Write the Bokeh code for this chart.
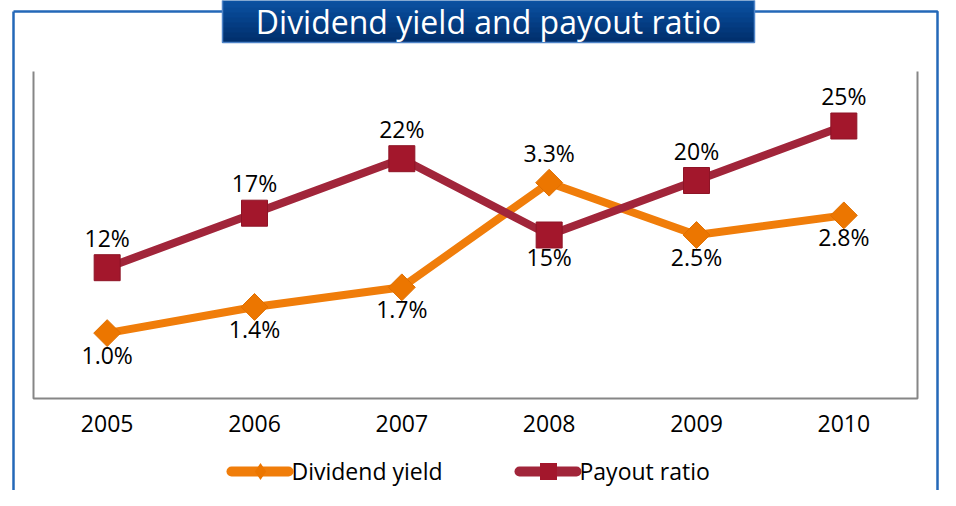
import numpy as np
from bokeh.plotting import figure
from bokeh.models import Range1d
from bokeh.core.properties import value
from bokeh.embed import file_html
from bokeh.resources import INLINE

# ---------------- data ----------------
title = "Dividend yield and payout ratio"
years = ["2005", "2006", "2007", "2008", "2009", "2010"]
dividend_yield = [1.0, 1.4, 1.7, 3.3, 2.5, 2.8]          # %, left scale 0-5
payout_ratio = [12, 17, 22, 15, 20, 25]                  # %, right scale 0-30
yield_labels = ["1.0%", "1.4%", "1.7%", "3.3%", "2.5%", "2.8%"]
payout_labels = ["12%", "17%", "22%", "15%", "20%", "25%"]
yield_label_side = ["below", "below", "below", "above", "below", "below"]
payout_label_side = ["above", "above", "above", "below", "above", "above"]
series_names = ["Dividend yield", "Payout ratio"]
YIELD_MAX = 5.0
PAYOUT_MAX = 30.0

# ---------------- layout (canvas pixels) ----------------
W, H = 940, 490
PL, PR, PT, PB = 33, 917, 71, 398
FONT = "Open Sans"
FS = "23px"
ORANGE = "#F07D0A"
ORANGE_M = "#EC7600"
RED = "#A1253A"
RED_M = "#A3172C"

n = len(years)
cat_px = (PR - PL) / n
pct_px = (PB - PT) / YIELD_MAX
k = PAYOUT_MAX / YIELD_MAX
x_start = -0.5 - PL / cat_px
x_end = x_start + W / cat_px
y_end = PB / pct_px
y_start = y_end - H / pct_px


def fx(cx):
    return x_start + cx / cat_px


def fy(cy):
    return y_end - cy / pct_px


p = figure(width=W, height=H, x_range=Range1d(x_start, x_end),
           y_range=Range1d(y_start, y_end), min_border=0,
           toolbar_location=None, output_backend="svg",
           x_axis_location=None, y_axis_location=None,
           outline_line_color=None, background_fill_color="white")
p.grid.visible = False
p.extra_y_ranges = {"payout": Range1d(y_start * k, y_end * k)}

# outer blue frame
fl, ft, fr, fb = 13, 11, 937, 500
p.line([fx(fl), fx(fr), fx(fr)], [fy(ft), fy(ft), fy(fb)], line_color="#2468B8", line_width=2.5)
p.line([fx(fl), fx(fl)], [fy(ft), fy(fb)], line_color="#2468B8", line_width=2.5)

# title box with vertical gradient
bx0, bx1, by0, by1 = 222, 754, -3, 42
grad = ["#0B52A3", "#0A4E9D", "#084A97", "#064590", "#054189", "#043C82", "#03387B", "#023474", "#01306E"]
ns = len(grad)
for i, c in enumerate(grad):
    t0 = by0 + (by1 - by0) * i / ns
    p.quad(left=fx(bx0), right=fx(bx1), top=fy(t0), bottom=fy(by1),
           fill_color=c, line_color=None)
p.line([fx(bx0), fx(bx0), fx(bx1), fx(bx1)], [fy(by0), fy(by1), fy(by1), fy(by0)],
       line_color="#4F84C8", line_width=1.5)
p.text(x=[fx((bx0 + bx1) / 2)], y=[fy(21)], text=[title], text_color="white",
       text_font=value(FONT), text_font_size="32px", text_align="center",
       text_baseline="middle")

# plot area border (no top)
p.line([fx(PL), fx(PL), fx(PR), fx(PR)], [fy(PT), fy(PB), fy(PB), fy(PT)],
       line_color="#868686", line_width=2)

xs = list(range(n))

# dividend yield series
p.line(xs, dividend_yield, line_color=ORANGE, line_width=8, line_join="round")
p.scatter(xs, dividend_yield, marker="square", angle=np.pi / 4, size=19,
          fill_color=ORANGE_M, line_color="#E06F00", line_width=1)

# payout ratio series (right scale)
p.line(xs, payout_ratio, line_color=RED, line_width=8, line_join="round",
       y_range_name="payout")
p.scatter(xs, payout_ratio, marker="square", size=26, fill_color=RED_M,
          line_color="#8E1426", line_width=1, y_range_name="payout")

ABOVE, BELOW = 30, 22
yl_y = [v + (ABOVE if s == "above" else -BELOW) / pct_px
        for v, s in zip(dividend_yield, yield_label_side)]
pl_y = [v + (ABOVE if s == "above" else -BELOW) / pct_px * k
        for v, s in zip(payout_ratio, payout_label_side)]
p.text(xs, yl_y, text=yield_labels, text_font=value(FONT), text_font_size=FS,
       text_align="center", text_baseline="middle", text_color="black")
p.text(xs, pl_y, text=payout_labels, text_font=value(FONT), text_font_size=FS,
       text_align="center", text_baseline="middle", text_color="black",
       y_range_name="payout")

# category labels
p.text(xs, [fy(PB + 25)] * n, text=years, text_font=value(FONT), text_font_size=FS,
       text_align="center", text_baseline="middle", text_color="black")

# legend
ly = 471
p.line([fx(231), fx(288)], [fy(ly), fy(ly)], line_color=ORANGE, line_width=10, line_cap="round")
p.scatter([fx(260)], [fy(ly)], marker="diamond", size=17, fill_color=ORANGE_M, line_color=None)
p.text([fx(291)], [fy(ly - 1)], text=[series_names[0]], text_font=value(FONT),
       text_font_size=FS, text_align="left", text_baseline="middle", text_color="black")
p.line([fx(519), fx(576)], [fy(ly), fy(ly)], line_color=RED, line_width=10, line_cap="round")
p.scatter([fx(548)], [fy(ly)], marker="square", size=17, fill_color=RED_M, line_color=None)
p.text([fx(579)], [fy(ly - 1)], text=[series_names[1]], text_font=value(FONT),
       text_font_size=FS, text_align="left", text_baseline="middle", text_color="black")

open("out.html", "w").write(file_html(p, INLINE))
